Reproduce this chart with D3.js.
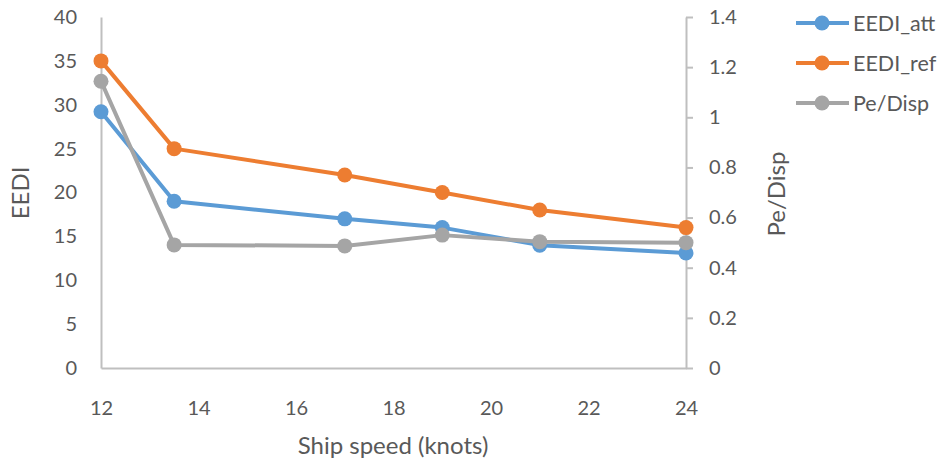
<!DOCTYPE html>
<html>
<head>
<meta charset="utf-8">
<script src="https://cdn.jsdelivr.net/npm/d3@7"></script>
<style>
  html, body { margin: 0; padding: 0; background: #fff; }
  svg text { font-family: Lato, "Open Sans", sans-serif; fill: #595959; }
</style>
</head>
<body>
<svg id="chart" width="941" height="463"></svg>
<script>
// Ship speed (knots)
const speeds = [12, 13.5, 17, 19, 21, 24];
// EEDI values (left axis)
const eediAtt = [29.2, 19.0, 17.0, 16.0, 14.0, 13.1];
const eediRef = [35.0, 25.0, 22.0, 20.0, 18.0, 16.0];
// Pe/Disp ratio (right axis)
const peDisp = [1.144, 0.491, 0.487, 0.530, 0.504, 0.500];

const xTicks = [12, 14, 16, 18, 20, 22, 24];
const leftTicks = [0, 5, 10, 15, 20, 25, 30, 35, 40];
const rightTicks = [0, 0.2, 0.4, 0.6, 0.8, 1, 1.2, 1.4];

const seriesNames = ["EEDI_att", "EEDI_ref", "Pe/Disp"];
const colors = ["#5b9bd5", "#ed7d31", "#a5a5a5"];

const svg = d3.select("#chart");
const m = { left: 101, right: 686, top: 17, bottom: 368 };
const axisColor = "#bfbfbf";

const x = d3.scaleLinear().domain([12, 24]).range([m.left, m.right]);
const yL = d3.scaleLinear().domain([0, 40]).range([m.bottom, m.top]);
const yR = d3.scaleLinear().domain([0, 1.4]).range([m.bottom, m.top]);

// Bottom axis: line + labels, no ticks
const gx = svg.append("g").attr("transform", `translate(0,${m.bottom})`)
  .call(d3.axisBottom(x).tickValues(xTicks).tickSize(0).tickPadding(33).tickFormat(d3.format("d")));
gx.select(".domain").attr("stroke", axisColor).attr("stroke-width", 2);
gx.selectAll("text").style("font-size", "20px").attr("fill", "#595959");

// Left axis: line + labels
const gl = svg.append("g").attr("transform", `translate(${m.left},0)`)
  .call(d3.axisLeft(yL).tickValues(leftTicks).tickSize(0).tickPadding(24));
gl.select(".domain").attr("stroke", axisColor).attr("stroke-width", 2);
gl.selectAll("text").style("font-size", "20px").attr("fill", "#595959");

// Right axis: line, outward ticks, labels
const gr = svg.append("g").attr("transform", `translate(${m.right},0)`)
  .call(d3.axisRight(yR).tickValues(rightTicks).tickSizeInner(7).tickSizeOuter(0).tickPadding(16)
    .tickFormat(d => d3.format("~g")(d)));
gr.select(".domain").attr("stroke", axisColor).attr("stroke-width", 2);
gr.selectAll(".tick line").attr("stroke", axisColor).attr("stroke-width", 2);
gr.selectAll("text").style("font-size", "20px").attr("fill", "#595959");

// Axis titles
svg.append("text").attr("x", 393).attr("y", 454).attr("text-anchor", "middle")
  .style("font-size", "24px").text("Ship speed (knots)");
svg.append("text").attr("transform", "translate(29,193) rotate(-90)").attr("text-anchor", "middle")
  .style("font-size", "24px").text("EEDI");
svg.append("text").attr("transform", "translate(785,194) rotate(-90)").attr("text-anchor", "middle")
  .style("font-size", "24px").text("Pe/Disp");

// Series
const series = [
  { name: seriesNames[0], values: eediAtt, y: yL, color: colors[0] },
  { name: seriesNames[1], values: eediRef, y: yL, color: colors[1] },
  { name: seriesNames[2], values: peDisp, y: yR, color: colors[2] }
];

series.forEach(s => {
  const pts = speeds.map((sp, i) => [x(sp), s.y(s.values[i])]);
  svg.append("path").datum(pts)
    .attr("d", d3.line())
    .attr("fill", "none").attr("stroke", s.color).attr("stroke-width", 4)
    .attr("stroke-linejoin", "round");
  svg.append("g").selectAll("circle").data(pts).join("circle")
    .attr("cx", d => d[0]).attr("cy", d => d[1]).attr("r", 7.5)
    .attr("fill", s.color);
});

// Legend
const lg = svg.append("g");
series.forEach((s, i) => {
  const yy = 23 + i * 40;
  lg.append("line").attr("x1", 796).attr("x2", 849).attr("y1", yy).attr("y2", yy)
    .attr("stroke", s.color).attr("stroke-width", 4);
  lg.append("circle").attr("cx", 822).attr("cy", yy).attr("r", 7.5).attr("fill", s.color);
  lg.append("text").attr("x", 853).attr("y", yy).attr("dy", "0.35em")
    .style("font-size", "21.5px").text(s.name);
});
</script>
</body>
</html>
